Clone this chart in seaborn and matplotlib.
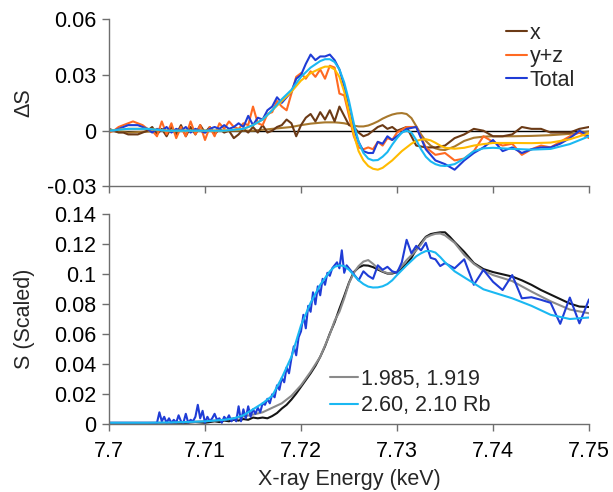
import numpy as np
import pandas as pd
import matplotlib
matplotlib.use("Agg")
import matplotlib.pyplot as plt
import seaborn as sns

# ---------------- data: top panel (Delta S) ----------------
top_E = np.round(np.concatenate([np.linspace(7.700, 7.730, 61), np.linspace(7.731, 7.750, 20)]), 5)

dS_total = [
    0.000, 0.000, 0.001, 0.002, 0.003, 0.003, 0.003, 0.002, 0.001, -0.001,
    0.001, 0.000, 0.002, -0.001, 0.001, 0.000, 0.002, -0.001, 0.001, 0.000,
    -0.001, 0.001, 0.002, 0.001, 0.003, 0.001, 0.002, 0.004, 0.002, 0.008,
    0.003, 0.007, 0.006, 0.011, 0.013, 0.018, 0.015, 0.018, 0.021, 0.028,
    0.030, 0.036, 0.041, 0.038, 0.040, 0.040, 0.041, 0.038, 0.033, 0.024,
    0.011, 0.001, -0.006, -0.011, -0.012, -0.012, -0.006, -0.007, -0.003, -0.005,
    -0.003,
    0.001, 0.002, -0.010, -0.016, -0.018, -0.021, -0.016, -0.012, -0.009, -0.005,
    -0.011, -0.009, -0.012, -0.010, -0.009, -0.009, -0.007, -0.004, 0.000, -0.003,
]
dS_yz = [
    -0.001, 0.000, 0.002, 0.003, 0.004, 0.005, 0.004, 0.003, 0.001, 0.000,
    -0.003, 0.005, -0.002, 0.004, -0.004, 0.002, -0.003, 0.005, -0.002, 0.003,
    -0.005, 0.002, -0.003, 0.004, 0.001, 0.005, 0.002, 0.001, 0.004, 0.003,
    0.013, 0.004, 0.003, 0.009, 0.010, 0.016, 0.013, 0.011, 0.020, 0.029,
    0.031, 0.028, 0.032, 0.029, 0.033, 0.028, 0.035, 0.034, 0.020, 0.019,
    0.008, -0.003, -0.009, -0.010, -0.009, -0.010, -0.006, -0.008, -0.004, -0.005,
    -0.001,
    0.002, 0.002, -0.009, -0.013, -0.012, -0.016, -0.015, -0.011, -0.003, -0.006,
    -0.008, -0.007, -0.013, -0.010, -0.008, -0.009, -0.006, -0.003, -0.001, -0.004,
]
dS_x = [
    0.001, 0.000, -0.001, -0.001, -0.002, -0.002, -0.002, -0.001, 0.000, 0.002,
    -0.002, 0.001, -0.003, 0.002, -0.002, 0.003, -0.003, 0.002, -0.002, 0.003,
    -0.001, 0.002, -0.002, 0.001, -0.001, 0.000, -0.004, -0.002, 0.001, -0.001,
    0.002, -0.001, 0.003, -0.001, 0.000, 0.002, 0.003, 0.006, 0.004, -0.003,
    0.003, 0.007, 0.009, 0.005, 0.010, 0.006, 0.011, 0.005, 0.013, 0.008,
    0.003, 0.002, -0.001, -0.003, -0.002, 0.000, 0.002, 0.003, 0.001, 0.002,
    0.000,
    0.002, -0.008, -0.009, -0.009, -0.008, -0.004, -0.002, 0.001, 0.000, -0.003,
    -0.003, -0.002, 0.002, 0.001, 0.001, -0.001, -0.001, -0.001, 0.001, 0.002,
]

fitT_E = [7.700, 7.702, 7.704, 7.706, 7.708, 7.710, 7.712, 7.714, 7.715, 7.716,
          7.717, 7.718, 7.719, 7.720, 7.721, 7.722, 7.7225, 7.723, 7.7235, 7.724,
          7.7245, 7.725, 7.7255, 7.726, 7.7265, 7.727, 7.7275, 7.728, 7.7285, 7.729,
          7.7295, 7.730, 7.7305, 7.731, 7.7315, 7.732, 7.7325, 7.733, 7.7335, 7.734,
          7.7345, 7.735, 7.736, 7.737, 7.738, 7.739, 7.740, 7.742, 7.744, 7.746,
          7.748, 7.750]
fit_total = [0.000, 0.001, 0.001, 0.000, 0.000, 0.000, 0.000, 0.001, 0.003, 0.006,
             0.011, 0.017, 0.022, 0.029, 0.034, 0.0375, 0.0385, 0.0385, 0.037, 0.033,
             0.026, 0.016, 0.004, -0.006, -0.012, -0.015, -0.016, -0.0158, -0.014, -0.0115,
             -0.0075, -0.004, -0.001, 0.000, -0.001, -0.005, -0.010, -0.014, -0.0165, -0.018,
             -0.0188, -0.019, -0.018, -0.015, -0.011, -0.0095, -0.0092, -0.0098, -0.0102, -0.0098,
             -0.0072, -0.003]
fit_yz = [0.000, 0.001, 0.001, 0.000, 0.000, 0.000, 0.000, 0.001, 0.003, 0.006,
          0.011, 0.016, 0.021, 0.027, 0.031, 0.0335, 0.0345, 0.0345, 0.033, 0.029,
          0.021, 0.010, -0.002, -0.011, -0.016, -0.019, -0.0205, -0.021, -0.020, -0.018,
          -0.016, -0.0135, -0.011, -0.009, -0.007, -0.0055, -0.0048, -0.0046, -0.0052, -0.0065,
          -0.008, -0.0092, -0.0097, -0.0092, -0.0080, -0.0072, -0.0066, -0.0066, -0.0067, -0.0064,
          -0.0046, -0.0014]
fit_x = [0.000, -0.001, -0.0005, 0.000, 0.000, 0.000, 0.000, 0.000, 0.000, 0.0005,
         0.001, 0.0015, 0.002, 0.003, 0.0038, 0.0043, 0.0045, 0.0045, 0.0045, 0.0043,
         0.004, 0.0034, 0.0027, 0.0023, 0.0023, 0.0028, 0.0038, 0.005, 0.0065, 0.0077,
         0.0087, 0.0093, 0.0095, 0.0090, 0.0068, 0.0025, -0.002, -0.0055, -0.008, -0.0095,
         -0.0102, -0.0104, -0.0085, -0.0055, -0.0038, -0.0032, -0.003, -0.003, -0.0028, -0.0024,
         -0.0017, -0.0004]

# ---------------- data: bottom panel (S scaled) ----------------
blue_E = np.round(np.concatenate([
    np.linspace(7.700, 7.704, 5),
    np.linspace(7.705, 7.725, 81),
    np.linspace(7.7255, 7.732, 14),
    np.linspace(7.7325, 7.735, 6),
    np.linspace(7.736, 7.750, 15),
]), 5)
S_blue = [
    0.001, 0.001, 0.001, 0.001, 0.001,
    0.001, 0.008, 0.002, 0.005, 0.001, 0.004, 0.001, 0.003, 0.001, 0.006,
    0.002, 0.001, 0.007, 0.001, 0.003, 0.002, 0.005, 0.013, 0.004, 0.009,
    0.001, 0.005, 0.002, 0.004, 0.007, 0.003, 0.004, 0.001, 0.005, 0.003,
    0.006, 0.002, 0.004, 0.002, 0.012, 0.002, 0.010, 0.004, 0.012, 0.005,
    0.010, 0.007, 0.011, 0.008, 0.014,
    0.013, 0.017, 0.014, 0.020, 0.018, 0.026, 0.023, 0.031, 0.028, 0.038,
    0.034, 0.044, 0.052, 0.046, 0.058, 0.062, 0.073, 0.064, 0.079, 0.075,
    0.088, 0.080, 0.092, 0.086, 0.097, 0.093, 0.101, 0.099, 0.104, 0.106,
    0.108, 0.104, 0.116, 0.101, 0.106, 0.104,
    0.100, 0.096, 0.102, 0.099, 0.097, 0.106, 0.103, 0.105, 0.102, 0.101,
    0.108, 0.123, 0.114, 0.119,
    0.116, 0.121, 0.111, 0.110, 0.1055, 0.1075,
    0.104, 0.110, 0.093, 0.103, 0.095, 0.0895, 0.0995, 0.084, 0.0847, 0.083,
    0.081, 0.067, 0.0845, 0.0673, 0.0833,
]

black_E = [7.700, 7.702, 7.704, 7.706, 7.708, 7.709, 7.710, 7.711, 7.7115, 7.712,
           7.7125, 7.713, 7.7135, 7.714, 7.7145, 7.715, 7.7155, 7.716, 7.7165, 7.717,
           7.7175, 7.718, 7.7185, 7.719, 7.7195, 7.720, 7.7205, 7.721, 7.7215, 7.722,
           7.7225, 7.723, 7.7235, 7.724, 7.7245, 7.725, 7.7255, 7.726, 7.7265, 7.727,
           7.7275, 7.728, 7.7285, 7.729, 7.7295, 7.730, 7.7305, 7.731, 7.7315, 7.732,
           7.7325, 7.733, 7.7335, 7.734, 7.7345, 7.735, 7.7355, 7.736, 7.737, 7.738,
           7.739, 7.740, 7.741, 7.742, 7.743, 7.744, 7.745, 7.746, 7.747, 7.748,
           7.749, 7.750]
S_black = [0.0005, 0.0005, 0.0005, 0.0008, 0.001, 0.0015, 0.001, 0.002, 0.0015, 0.0025,
           0.002, 0.003, 0.0025, 0.0035, 0.003, 0.0045, 0.004, 0.0045, 0.004, 0.0055,
           0.0075, 0.0105, 0.013, 0.0165, 0.0205, 0.025, 0.0295, 0.034, 0.039, 0.045,
           0.052, 0.0605, 0.068, 0.077, 0.0855, 0.0945, 0.1015, 0.1045, 0.106, 0.1058,
           0.1048, 0.1032, 0.1017, 0.1005, 0.1005, 0.1015, 0.104, 0.107, 0.111, 0.1165,
           0.121, 0.125, 0.1268, 0.1275, 0.128, 0.128, 0.125, 0.1215, 0.115, 0.1075,
           0.1035, 0.1015, 0.100, 0.0985, 0.096, 0.093, 0.0895, 0.0865, 0.0835, 0.0805,
           0.0785, 0.0782]

fitS_E = [7.700, 7.702, 7.704, 7.706, 7.708, 7.710, 7.711, 7.712, 7.713, 7.714,
          7.715, 7.716, 7.717, 7.718, 7.719, 7.720, 7.721, 7.722, 7.723, 7.7235,
          7.724, 7.7245, 7.725, 7.7255, 7.726, 7.7265, 7.727, 7.7275, 7.728, 7.7285,
          7.729, 7.7295, 7.730, 7.731, 7.732, 7.7325, 7.733, 7.7335, 7.734, 7.7345,
          7.735, 7.736, 7.737, 7.738, 7.739, 7.740, 7.742, 7.744, 7.746, 7.748,
          7.750]
S_cyan = [0.001, 0.001, 0.001, 0.0012, 0.0015, 0.002, 0.0025, 0.003, 0.004, 0.006,
          0.010, 0.014, 0.019, 0.031, 0.045, 0.066, 0.081, 0.093, 0.102, 0.105,
          0.106, 0.1055, 0.103, 0.0995, 0.096, 0.0935, 0.0918, 0.0912, 0.0913, 0.092,
          0.0935, 0.096, 0.0995, 0.106, 0.112, 0.114, 0.1155, 0.1155, 0.1145, 0.1115,
          0.108, 0.102, 0.098, 0.094, 0.090, 0.088, 0.084, 0.079, 0.073, 0.0702,
          0.0712]
S_gray = [0.001, 0.001, 0.001, 0.001, 0.0015, 0.002, 0.0025, 0.003, 0.004, 0.0052,
          0.0065, 0.008, 0.011, 0.014, 0.019, 0.026, 0.035, 0.045, 0.060, 0.069,
          0.075, 0.084, 0.094, 0.101, 0.1055, 0.1085, 0.1095, 0.107, 0.104, 0.102,
          0.1008, 0.101, 0.1017, 0.1095, 0.116, 0.120, 0.1245, 0.126, 0.127, 0.1272,
          0.126, 0.121, 0.113, 0.107, 0.1025, 0.0995, 0.0955, 0.0885, 0.082, 0.0765,
          0.074]

x_ticks = [7.70, 7.71, 7.72, 7.73, 7.74, 7.75]
x_ticklabels = ["7.7", "7.71", "7.72", "7.73", "7.74", "7.75"]
top_yticks = [-0.03, 0.0, 0.03, 0.06]
top_yticklabels = ["-0.03", "0", "0.03", "0.06"]
bot_yticks = [0, 0.02, 0.04, 0.06, 0.08, 0.10, 0.12, 0.14]
bot_yticklabels = ["0", "0.02", "0.04", "0.06", "0.08", "0.1", "0.12", "0.14"]

# ---------------- style ----------------
sns.set_style("ticks")
plt.rcParams["font.family"] = ["Liberation Sans", "DejaVu Sans"]
FS = 15.5
C_BROWN = "#6B3A16"
C_ORANGE = "#FF6A22"
C_BLUE = "#1F3CD6"
C_LBLUE = "#1AB8F2"
C_YELLOW = "#FFBB00"
C_GOLD = "#A8782C"
C_BLACK = "#151515"
C_GRAY = "#8A8A8A"
AX_COL = "#6E6E6E"
LW = 1.5

fig = plt.figure(figsize=(6.13, 4.92), dpi=100)
ax1 = fig.add_axes([0.1778, 0.6211, 0.7831, 0.3397])
ax2 = fig.add_axes([0.1778, 0.1376, 0.7831, 0.4268])

df_top = pd.DataFrame({"E": top_E, "x": dS_x, "yz": dS_yz, "tot": dS_total})
df_fitT = pd.DataFrame({"E": fitT_E, "x": fit_x, "yz": fit_yz, "tot": fit_total})

ax1.axhline(0, color="black", lw=1.0, zorder=1)
sns.lineplot(data=df_fitT, x="E", y="x", ax=ax1, color=C_GOLD, lw=LW, sort=False, estimator=None)
sns.lineplot(data=df_top, x="E", y="x", ax=ax1, color=C_BROWN, lw=LW, sort=False, estimator=None, label="x")
sns.lineplot(data=df_top, x="E", y="yz", ax=ax1, color=C_ORANGE, lw=LW, sort=False, estimator=None, label="y+z")
sns.lineplot(data=df_top, x="E", y="tot", ax=ax1, color=C_BLUE, lw=LW, sort=False, estimator=None, label="Total")
sns.lineplot(data=df_fitT, x="E", y="yz", ax=ax1, color=C_YELLOW, lw=LW, sort=False, estimator=None)
sns.lineplot(data=df_fitT, x="E", y="tot", ax=ax1, color=C_LBLUE, lw=LW, sort=False, estimator=None)

df_blue = pd.DataFrame({"E": blue_E, "S": S_blue})
df_black = pd.DataFrame({"E": black_E, "S": S_black})
df_fitS = pd.DataFrame({"E": fitS_E, "cyan": S_cyan, "gray": S_gray})

sns.lineplot(data=df_black, x="E", y="S", ax=ax2, color=C_BLACK, lw=LW, sort=False, estimator=None)
sns.lineplot(data=df_fitS, x="E", y="gray", ax=ax2, color=C_GRAY, lw=LW, sort=False, estimator=None, label="1.985, 1.919")
sns.lineplot(data=df_blue, x="E", y="S", ax=ax2, color=C_BLUE, lw=LW, sort=False, estimator=None)
sns.lineplot(data=df_fitS, x="E", y="cyan", ax=ax2, color=C_LBLUE, lw=LW, sort=False, estimator=None, label="2.60, 2.10 Rb")

for ax in (ax1, ax2):
    ax.set_xlim(7.70, 7.75)
    ax.set_xticks(x_ticks)
    for s in ("top", "right"):
        ax.spines[s].set_visible(False)
    for s in ("left", "bottom"):
        ax.spines[s].set_color(AX_COL)
        ax.spines[s].set_linewidth(1.0)
    ax.tick_params(axis="both", direction="out", length=5, width=1.0, color=AX_COL,
                   labelsize=FS, labelcolor="black")
    ax.tick_params(axis="y", pad=4)
    ax.tick_params(axis="x", pad=7)
    ax.set_xlabel("")

ax1.set_ylim(-0.03, 0.06)
ax1.set_yticks(top_yticks)
ax1.set_yticklabels(top_yticklabels)
ax1.set_xticklabels([])
ax1.set_ylabel("ΔS", fontsize=FS)
ax1.yaxis.set_label_coords(-0.155, 0.5)

ax2.set_ylim(0, 0.14)
ax2.set_yticks(bot_yticks)
ax2.set_yticklabels(bot_yticklabels)
ax2.set_xticklabels(x_ticklabels)
ax2.set_ylabel("S (Scaled)", fontsize=FS)
ax2.yaxis.set_label_coords(-0.155, 0.5)
ax2.set_xlabel("X-ray Energy (keV)", fontsize=FS, labelpad=5)

leg1 = ax1.legend(loc="upper left", bbox_to_anchor=(0.795, 1.07), frameon=False, fontsize=FS,
                  handlelength=1.0, handletextpad=0.12, labelspacing=0.12, borderpad=0.2)
leg2 = ax2.legend(loc="upper left", bbox_to_anchor=(0.43, 0.335), frameon=False, fontsize=FS,
                  handlelength=1.3, handletextpad=0.12, labelspacing=0.25, borderpad=0.2)

fig.savefig("out.png", dpi=100)
